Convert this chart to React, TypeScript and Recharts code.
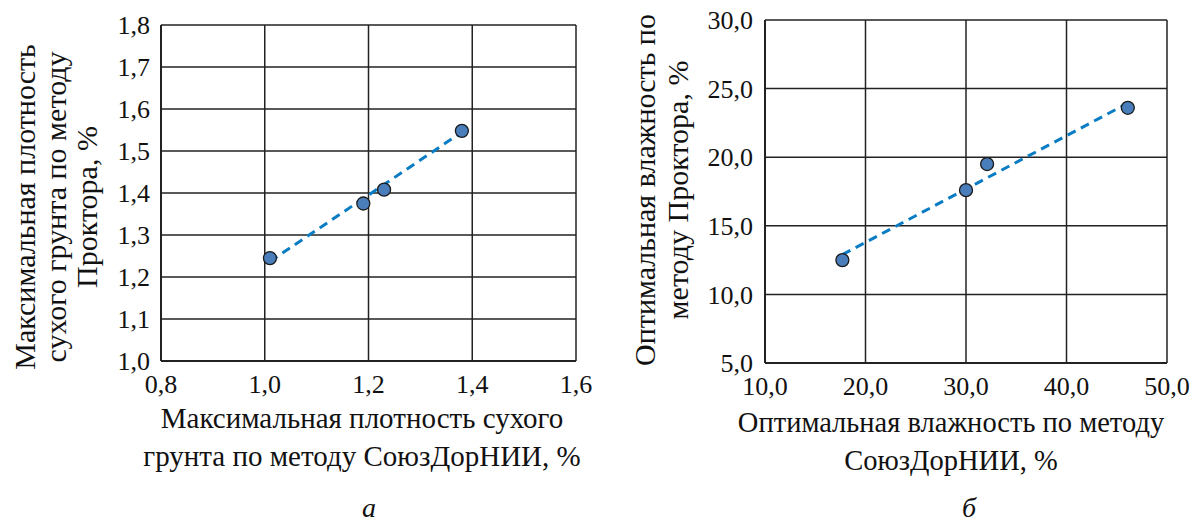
import React from 'react';
import { ScatterChart, Scatter, XAxis, YAxis, CartesianGrid } from 'recharts';

// а: максимальная плотность
const densX = [1.01, 1.19, 1.23, 1.38];
const densY = [1.245, 1.375, 1.408, 1.548];
const densTrendX = [1.01, 1.38];
const densTrendY = [1.237, 1.545];
const densXTicks = [0.8, 1.0, 1.2, 1.4, 1.6];
const densYTicks = [1.0, 1.1, 1.2, 1.3, 1.4, 1.5, 1.6, 1.7, 1.8];

// б: оптимальная влажность
const moistX = [17.7, 30.0, 32.1, 46.1];
const moistY = [12.5, 17.6, 19.5, 23.6];
const moistTrendX = [17.7, 46.0];
const moistTrendY = [12.9, 23.9];
const moistXTicks = [10, 20, 30, 40, 50];
const moistYTicks = [5, 10, 15, 20, 25, 30];

const FONT = 'Liberation Serif, DejaVu Serif, serif';
const GRID = '#222';

const toPoints = (xs: number[], ys: number[]) => xs.map((x, i) => ({ x, y: ys[i] }));
const fmt = (v: number) => v.toFixed(1).replace('.', ',');

const Dot = (props: any) => (
    <circle cx={props.cx} cy={props.cy} r={6.5} fill="#4a7ebb" stroke="#1a1a1a" strokeWidth={1.3} />
);
const NoDot = () => <g />;

interface PanelProps {
    width: number;
    height: number;
    margin: { top: number; right: number; bottom: number; left: number };
    points: { x: number; y: number }[];
    trend: { x: number; y: number }[];
    xTicks: number[];
    yTicks: number[];
    yTickMargin: number;
}

const Panel: React.FC<PanelProps> = ({ width, height, margin, points, trend, xTicks, yTicks, yTickMargin }) => {
    const tick = { fill: '#111', fontSize: 26, fontFamily: FONT };
    return (
        <ScatterChart width={width} height={height} margin={margin}>
            <CartesianGrid stroke={GRID} strokeWidth={1.5} />
            <XAxis
                type="number"
                dataKey="x"
                domain={[xTicks[0], xTicks[xTicks.length - 1]]}
                ticks={xTicks}
                tickFormatter={fmt}
                tick={tick}
                tickLine={false}
                tickSize={0}
                tickMargin={14}
                axisLine={{ stroke: GRID, strokeWidth: 2 }}
                interval={0}
            />
            <YAxis
                type="number"
                dataKey="y"
                domain={[yTicks[0], yTicks[yTicks.length - 1]]}
                ticks={yTicks}
                tickFormatter={fmt}
                tick={tick}
                tickLine={false}
                tickSize={0}
                tickMargin={yTickMargin}
                axisLine={{ stroke: GRID, strokeWidth: 2 }}
                interval={0}
            />
            <Scatter
                data={trend}
                line={{ stroke: '#0a7cc4', strokeWidth: 3, strokeDasharray: '9 6' }}
                shape={NoDot}
                isAnimationActive={false}
            />
            <Scatter data={points} shape={Dot} isAnimationActive={false} />
        </ScatterChart>
    );
};

const textStyle: React.CSSProperties = {
    position: 'absolute',
    fontFamily: FONT,
    fontSize: 30,
    color: '#111',
    textAlign: 'center',
    whiteSpace: 'nowrap',
};

const HTitle = ({ cx, top, size, children }: { cx: number; top: number; size: number; children: React.ReactNode }) => (
    <div style={{ ...textStyle, fontSize: size, lineHeight: '38px', left: cx - 300, width: 600, top }}>{children}</div>
);

const VTitle = ({ cx, cy, size, lineHeight, children }: { cx: number; cy: number; size: number; lineHeight: number; children: React.ReactNode }) => (
    <div
        style={{
            ...textStyle,
            fontSize: size,
            lineHeight: `${lineHeight}px`,
            left: cx - 250,
            top: cy - 60,
            width: 500,
            height: 120,
            display: 'flex',
            flexDirection: 'column',
            justifyContent: 'center',
            transform: 'rotate(-90deg)',
        }}
    >
        {children}
    </div>
);

export default function App() {
    return (
        <div style={{ position: 'absolute', left: 0, top: 0, width: 1193, height: 523, background: '#fff', overflow: 'hidden' }}>
            <div style={{ position: 'absolute', left: 0, top: 0 }}>
                <Panel
                    width={600}
                    height={400}
                    margin={{ top: 25, right: 24, bottom: 9, left: 101 }}
                    points={toPoints(densX, densY)}
                    trend={toPoints(densTrendX, densTrendY)}
                    xTicks={densXTicks}
                    yTicks={densYTicks}
                    yTickMargin={11}
                />
            </div>
            <div style={{ position: 'absolute', left: 600, top: 0 }}>
                <Panel
                    width={593}
                    height={400}
                    margin={{ top: 20, right: 26, bottom: 7, left: 105 }}
                    points={toPoints(moistX, moistY)}
                    trend={toPoints(moistTrendX, moistTrendY)}
                    xTicks={moistXTicks}
                    yTicks={moistYTicks}
                    yTickMargin={12}
                />
            </div>

            <VTitle cx={55} cy={207} size={30} lineHeight={31}>
                <div>Максимальная плотность</div>
                <div>сухого грунта по методу</div>
                <div>Проктора, %</div>
            </VTitle>
            <VTitle cx={661} cy={190} size={30} lineHeight={33}>
                <div>Оптимальная влажность по</div>
                <div>методу Проктора, %</div>
            </VTitle>

            <HTitle cx={362} top={399} size={29}>
                <div>Максимальная плотность сухого</div>
                <div>грунта по методу СоюзДорНИИ, %</div>
            </HTitle>
            <HTitle cx={951} top={404} size={28.5}>
                <div>Оптимальная влажность по методу</div>
                <div>СоюзДорНИИ, %</div>
            </HTitle>

            <div style={{ ...textStyle, fontStyle: 'italic', fontSize: 28, lineHeight: '28px', left: 369 - 20, width: 40, top: 494 }}>а</div>
            <div style={{ ...textStyle, fontStyle: 'italic', fontSize: 28, lineHeight: '28px', left: 969 - 20, width: 40, top: 494 }}>б</div>
        </div>
    );
}
